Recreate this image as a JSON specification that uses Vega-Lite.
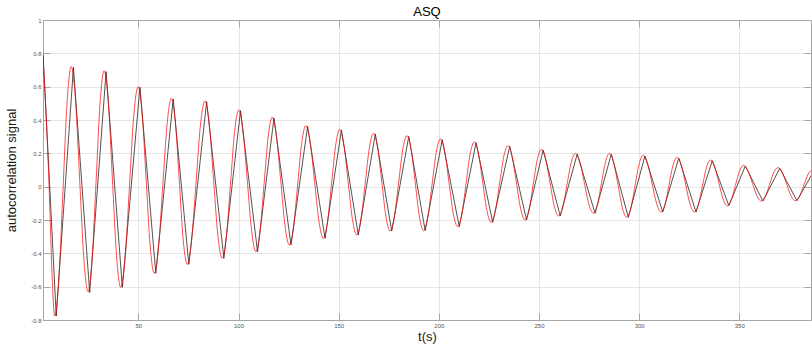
{
"$schema":"https://vega.github.io/schema/vega-lite/v6.json",
"width":768,"height":300,
"autosize":{"type":"none"},
"padding":{"left":43,"top":20,"right":1,"bottom":27},
"title":{"text":"ASQ","fontSize":13,"font":"Liberation Sans","fontWeight":"normal","color":"#000000","anchor":"middle","offset":4,"dy":6},
"config":{"view":{"stroke":null},"font":"Liberation Sans"},
"datasets":{
"measured":[
{"t":2.4,"v":0.80},{"t":9.0,"v":-0.776},{"t":17.6,"v":0.716},{"t":25.7,"v":-0.635},{"t":33.9,"v":0.69},{"t":42.0,"v":-0.604},{"t":50.8,"v":0.597},{"t":58.7,"v":-0.52},{"t":67.4,"v":0.526},{"t":75.2,"v":-0.466},{"t":84.1,"v":0.51},{"t":92.7,"v":-0.43},{"t":101.0,"v":0.456},{"t":109.5,"v":-0.39},{"t":117.7,"v":0.412},{"t":126.2,"v":-0.35},{"t":134.5,"v":0.362},{"t":143.2,"v":-0.31},{"t":151.4,"v":0.34},{"t":159.8,"v":-0.29},{"t":168.3,"v":0.316},{"t":176.5,"v":-0.266},{"t":185.0,"v":0.302},{"t":193.2,"v":-0.264},{"t":201.7,"v":0.282},{"t":210.2,"v":-0.24},{"t":218.6,"v":0.264},{"t":226.9,"v":-0.214},{"t":235.4,"v":0.242},{"t":243.8,"v":-0.20},{"t":252.1,"v":0.22},{"t":260.6,"v":-0.176},{"t":269.1,"v":0.196},{"t":278.0,"v":-0.16},{"t":286.1,"v":0.196},{"t":294.6,"v":-0.184},{"t":302.9,"v":0.184},{"t":311.8,"v":-0.152},{"t":319.8,"v":0.172},{"t":328.4,"v":-0.152},{"t":336.5,"v":0.156},{"t":344.8,"v":-0.114},{"t":353.0,"v":0.124},{"t":361.8,"v":-0.086},{"t":370.2,"v":0.11},{"t":378.8,"v":-0.084},{"t":387.5,"v":0.10}
],
"model":[
{"t":2.4,"v":0.78},{"t":4.0,"v":0.42},{"t":5.6,"v":-0.05},{"t":7.0,"v":-0.55},{"t":8.2,"v":-0.776},
{"t":10.3,"v":-0.557},{"t":12.35,"v":-0.028},{"t":14.4,"v":0.501},{"t":16.5,"v":0.72},
{"t":18.6,"v":0.522},{"t":20.7,"v":0.045},{"t":22.8,"v":-0.432},{"t":24.9,"v":-0.63},
{"t":26.9,"v":-0.436},{"t":28.9,"v":0.033},{"t":30.9,"v":0.502},{"t":32.9,"v":0.696},
{"t":35.0,"v":0.506},{"t":37.05,"v":0.046},{"t":39.1,"v":-0.414},{"t":41.2,"v":-0.604},
{"t":43.4,"v":-0.428},{"t":45.55,"v":-0.002},{"t":47.7,"v":0.424},{"t":49.9,"v":0.60},
{"t":51.9,"v":0.436},{"t":53.9,"v":0.04},{"t":55.9,"v":-0.356},{"t":57.9,"v":-0.52},
{"t":60.05,"v":-0.366},{"t":62.2,"v":0.005},{"t":64.35,"v":0.376},{"t":66.5,"v":0.53},
{"t":68.5,"v":0.384},{"t":70.45,"v":0.032},{"t":72.4,"v":-0.32},{"t":74.4,"v":-0.466},
{"t":76.6,"v":-0.322},{"t":78.8,"v":0.024},{"t":81.0,"v":0.37},{"t":83.2,"v":0.514},
{"t":85.4,"v":0.376},{"t":87.55,"v":0.042},{"t":89.7,"v":-0.292},{"t":91.9,"v":-0.43},
{"t":93.95,"v":-0.30},{"t":96.0,"v":0.015},{"t":98.05,"v":0.33},{"t":100.1,"v":0.46},
{"t":102.25,"v":0.335},{"t":104.4,"v":0.035},{"t":106.55,"v":-0.265},{"t":108.7,"v":-0.39},
{"t":110.7,"v":-0.272},{"t":112.75,"v":0.013},{"t":114.8,"v":0.298},{"t":116.8,"v":0.416},
{"t":118.95,"v":0.304},{"t":121.1,"v":0.033},{"t":123.25,"v":-0.238},{"t":125.4,"v":-0.35},
{"t":127.45,"v":-0.245},{"t":129.5,"v":0.008},{"t":131.55,"v":0.261},{"t":133.6,"v":0.366},
{"t":135.8,"v":0.267},{"t":138.0,"v":0.028},{"t":140.2,"v":-0.211},{"t":142.4,"v":-0.31},
{"t":144.4,"v":-0.214},{"t":146.45,"v":0.017},{"t":148.5,"v":0.248},{"t":150.5,"v":0.344},
{"t":152.6,"v":0.251},{"t":154.75,"v":0.027},{"t":156.9,"v":-0.197},{"t":159.0,"v":-0.29},
{"t":161.1,"v":-0.201},{"t":163.2,"v":0.015},{"t":165.3,"v":0.231},{"t":167.4,"v":0.32},
{"t":169.5,"v":0.234},{"t":171.55,"v":0.027},{"t":173.6,"v":-0.18},{"t":175.7,"v":-0.266},
{"t":177.8,"v":-0.182},{"t":179.9,"v":0.02},{"t":182.0,"v":0.222},{"t":184.1,"v":0.306},
{"t":186.2,"v":0.222},{"t":188.25,"v":0.021},{"t":190.3,"v":-0.18},{"t":192.4,"v":-0.264},
{"t":194.5,"v":-0.183},{"t":196.6,"v":0.011},{"t":198.7,"v":0.205},{"t":200.8,"v":0.286},
{"t":202.95,"v":0.209},{"t":205.1,"v":0.023},{"t":207.25,"v":-0.163},{"t":209.4,"v":-0.24},
{"t":211.5,"v":-0.166},{"t":213.55,"v":0.014},{"t":215.6,"v":0.194},{"t":217.7,"v":0.268},
{"t":219.8,"v":0.197},{"t":221.9,"v":0.027},{"t":224.0,"v":-0.143},{"t":226.1,"v":-0.214},
{"t":228.2,"v":-0.147},{"t":230.3,"v":0.016},{"t":232.4,"v":0.179},{"t":234.5,"v":0.246},
{"t":236.6,"v":0.181},{"t":238.75,"v":0.023},{"t":240.9,"v":-0.135},{"t":243.0,"v":-0.20},
{"t":245.05,"v":-0.138},{"t":247.1,"v":0.012},{"t":249.15,"v":0.162},{"t":251.2,"v":0.224},
{"t":253.35,"v":0.165},{"t":255.5,"v":0.024},{"t":257.65,"v":-0.117},{"t":259.8,"v":-0.176},
{"t":261.9,"v":-0.121},{"t":264.0,"v":0.012},{"t":266.1,"v":0.145},{"t":268.2,"v":0.20},
{"t":270.45,"v":0.147},{"t":272.7,"v":0.02},{"t":274.95,"v":-0.107},{"t":277.2,"v":-0.16},
{"t":279.2,"v":-0.107},{"t":281.2,"v":0.02},{"t":283.2,"v":0.147},{"t":285.2,"v":0.20},
{"t":287.35,"v":0.144},{"t":289.5,"v":0.008},{"t":291.65,"v":-0.128},{"t":293.8,"v":-0.184},
{"t":295.85,"v":-0.13},{"t":297.9,"v":0.002},{"t":299.95,"v":0.134},{"t":302.0,"v":0.188},
{"t":304.25,"v":0.138},{"t":306.5,"v":0.018},{"t":308.75,"v":-0.102},{"t":311.0,"v":-0.152},
{"t":313.0,"v":-0.104},{"t":314.95,"v":0.012},{"t":316.9,"v":0.128},{"t":318.9,"v":0.176},
{"t":321.1,"v":0.128},{"t":323.25,"v":0.012},{"t":325.4,"v":-0.104},{"t":327.6,"v":-0.152},
{"t":329.6,"v":-0.106},{"t":331.6,"v":0.004},{"t":333.6,"v":0.114},{"t":335.6,"v":0.16},
{"t":337.7,"v":0.12},{"t":339.8,"v":0.023},{"t":341.9,"v":-0.074},{"t":344.0,"v":-0.114},
{"t":346.0,"v":-0.079},{"t":348.05,"v":0.007},{"t":350.1,"v":0.093},{"t":352.1,"v":0.128},
{"t":354.3,"v":0.097},{"t":356.55,"v":0.021},{"t":358.8,"v":-0.055},{"t":361.0,"v":-0.086},
{"t":363.1,"v":-0.057},{"t":365.15,"v":0.014},{"t":367.2,"v":0.085},{"t":369.3,"v":0.114},
{"t":371.5,"v":0.085},{"t":373.65,"v":0.015},{"t":375.8,"v":-0.055},{"t":378.0,"v":-0.084},
{"t":380.15,"v":-0.056},{"t":382.3,"v":0.011},{"t":384.45,"v":0.077},{"t":386.6,"v":0.105}
]
},
"layer":[
{"data":{"name":"measured"},
 "mark":{"type":"line","color":"#262626","strokeWidth":0.8,"clip":true,"interpolate":"linear"},
 "encoding":{
  "x":{"field":"t","type":"quantitative","scale":{"domain":[2.4,385.8],"nice":false,"zero":false},
   "axis":{"orient":"top","labels":false,"grid":false,"title":null,"values":[50,100,150,200,250,300,350],"tickSize":-7,"tickColor":"#a6a6a6","domainColor":"#a6a6a6","tickWidth":1,"domainWidth":1}},
  "y":{"field":"v","type":"quantitative","scale":{"domain":[-0.8,1],"nice":false,"zero":false},
   "axis":{"orient":"right","labels":false,"grid":false,"title":null,"values":[-0.8,-0.6,-0.4,-0.2,0,0.2,0.4,0.6,0.8,1],"tickSize":-7,"tickColor":"#a6a6a6","domainColor":"#a6a6a6","tickWidth":1,"domainWidth":1}}
 }},
{"data":{"name":"model"},
 "mark":{"type":"line","color":"#ff0000","strokeWidth":0.7,"clip":true,"interpolate":"monotone"},
 "encoding":{
  "x":{"field":"t","type":"quantitative","scale":{"domain":[2.4,385.8],"nice":false,"zero":false},
   "axis":{"orient":"bottom","title":"t(s)","titleFont":"Liberation Sans","titleFontSize":13,"titleFontWeight":"normal","titleColor":"#1a1a1a","titleBaseline":"alphabetic","titleY":20,
    "values":[50,100,150,200,250,300,350],"tickSize":-7,"labelPadding":9,"labelFontSize":6,"labelColor":"#555555","labelFont":"Liberation Sans",
    "tickColor":"#a6a6a6","domainColor":"#a6a6a6","tickWidth":1,"domainWidth":1,"grid":true,"gridColor":"#e6e6e6","gridWidth":1}},
  "y":{"field":"v","type":"quantitative","scale":{"domain":[-0.8,1],"nice":false,"zero":false},
   "axis":{"orient":"left","title":"autocorrelation signal","titleFont":"Liberation Sans","titleFontSize":13,"titleFontWeight":"normal","titleColor":"#1a1a1a","titleBaseline":"middle","titleX":-32,
    "values":[-0.8,-0.6,-0.4,-0.2,0,0.2,0.4,0.6,0.8,1],"labelExpr":"datum.value == 0 ? '0' : (datum.value < 0 ? '-' : '') + format(abs(datum.value), '~g')",
    "tickSize":-7,"labelPadding":9,"labelFontSize":6,"labelColor":"#555555","labelFont":"Liberation Sans",
    "tickColor":"#a6a6a6","domainColor":"#a6a6a6","tickWidth":1,"domainWidth":1,"grid":true,"gridColor":"#e6e6e6","gridWidth":1}}
 }}
],
"resolve":{"axis":{"x":"independent","y":"independent"}}
}
